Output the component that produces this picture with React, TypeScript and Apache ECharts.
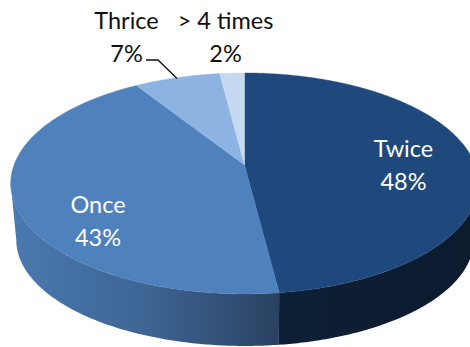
import React, { useEffect, useRef } from "react";
import * as echarts from "echarts";

const categories = ["Twice", "Once", "Thrice", "> 4 times"];
const shares = [48, 43, 7, 2];

const FONT = "Lato, 'Open Sans', sans-serif";
const TOP_COLORS = ["#1F497D", "#4F81BD", "#8DB3E2", "#C6D9F1"];
const LABEL_COLORS = ["#FFFFFF", "#FFFFFF", "#111111", "#111111"];
const LABEL_CENTERS = [
  [403.5, 164],
  [98, 220],
  [126.5, 36],
  [225.5, 36],
];

// Tilted disc: a circle under a projective map, squeezed towards the far edge.
const TILT = 0.167;
const TOP_FACE = { cx: 244.5, cy: 165, a: 230.5, b: 107.4 };
const BOTTOM_FACE = { cx: 245, cy: 222.3, a: 225.5, b: 103 };
const RIGHT_LIMB = Math.acos(-TILT);
const LEFT_LIMB = 2 * Math.PI - RIGHT_LIMB;

type Face = typeof TOP_FACE;

function project(face: Face, angle: number): number[] {
  const x = Math.sin(angle);
  const y = Math.cos(angle);
  const w = 1 + TILT * y;
  return [face.cx + (face.a * x) / w, face.cy - (face.b * y) / w];
}

function arc(face: Face, from: number, to: number): number[][] {
  const steps = Math.max(2, Math.ceil((to - from) / 0.01));
  const points: number[][] = [];
  for (let i = 0; i <= steps; i++) {
    points.push(project(face, from + ((to - from) * i) / steps));
  }
  return points;
}

function sideFill(index: number) {
  const stops =
    index === 0
      ? [
          { offset: 0, color: "#0C1B2E" },
          { offset: 1, color: "#0E2036" },
        ]
      : [
          { offset: 0, color: "#4A79B0" },
          { offset: 0.5, color: "#3E6594" },
          { offset: 1, color: "#2A4262" },
        ];
  return new echarts.graphic.LinearGradient(index === 0 ? 1 : 0, 0, index === 0 ? 0 : 1, 0, stops);
}

const total = shares.reduce((sum, v) => sum + v, 0);

function renderSlice(params: any, api: any) {
  const index = params.dataIndex;
  const value = api.value(1);
  const before = shares.slice(0, index).reduce((sum, v) => sum + v, 0);
  const start = (before / total) * 2 * Math.PI;
  const end = ((before + value) / total) * 2 * Math.PI;
  const children: any[] = [];

  // Rim, only where the slice faces the viewer.
  const rimFrom = Math.max(start, RIGHT_LIMB);
  const rimTo = Math.min(end, LEFT_LIMB);
  if (rimTo > rimFrom) {
    children.push({
      type: "polygon",
      shape: {
        points: [...arc(TOP_FACE, rimFrom, rimTo), ...arc(BOTTOM_FACE, rimFrom, rimTo).reverse()],
      },
      style: { fill: sideFill(index), stroke: null },
    });
  }

  // Top face.
  const color = TOP_COLORS[index];
  children.push({
    type: "polygon",
    shape: { points: [[TOP_FACE.cx, TOP_FACE.cy], ...arc(TOP_FACE, start, end)] },
    style: { fill: color, stroke: color, lineWidth: 0.4 },
  });

  if (categories[index] === "Thrice") {
    children.push({
      type: "polyline",
      shape: {
        points: [
          [146, 60],
          [158, 60],
          [177, 78.5],
        ],
      },
      style: { stroke: "#111111", lineWidth: 1.3, fill: null },
    });
  }

  const [lx, ly] = LABEL_CENTERS[index];
  children.push({
    type: "text",
    x: lx,
    y: ly,
    z2: 10,
    style: {
      text: `${categories[index]}\n${value}%`,
      fill: LABEL_COLORS[index],
      font: `23.5px ${FONT}`,
      lineHeight: 33,
      align: "center",
      verticalAlign: "middle",
    },
  });

  return { type: "group", children };
}

export default function App() {
  const ref = useRef<HTMLDivElement>(null);

  useEffect(() => {
    document.body.style.margin = "0";
    const chart = echarts.init(ref.current!, undefined, { renderer: "svg" });
    chart.setOption({
      animation: false,
      backgroundColor: "#FFFFFF",
      series: [
        {
          type: "custom",
          coordinateSystem: "none",
          clip: false,
          data: shares.map((v, i) => ({ name: categories[i], value: [i, v] })),
          renderItem: renderSlice,
        },
      ],
    });
    return () => chart.dispose();
  }, []);

  return <div ref={ref} style={{ width: 470, height: 347, overflow: "hidden" }} />;
}
